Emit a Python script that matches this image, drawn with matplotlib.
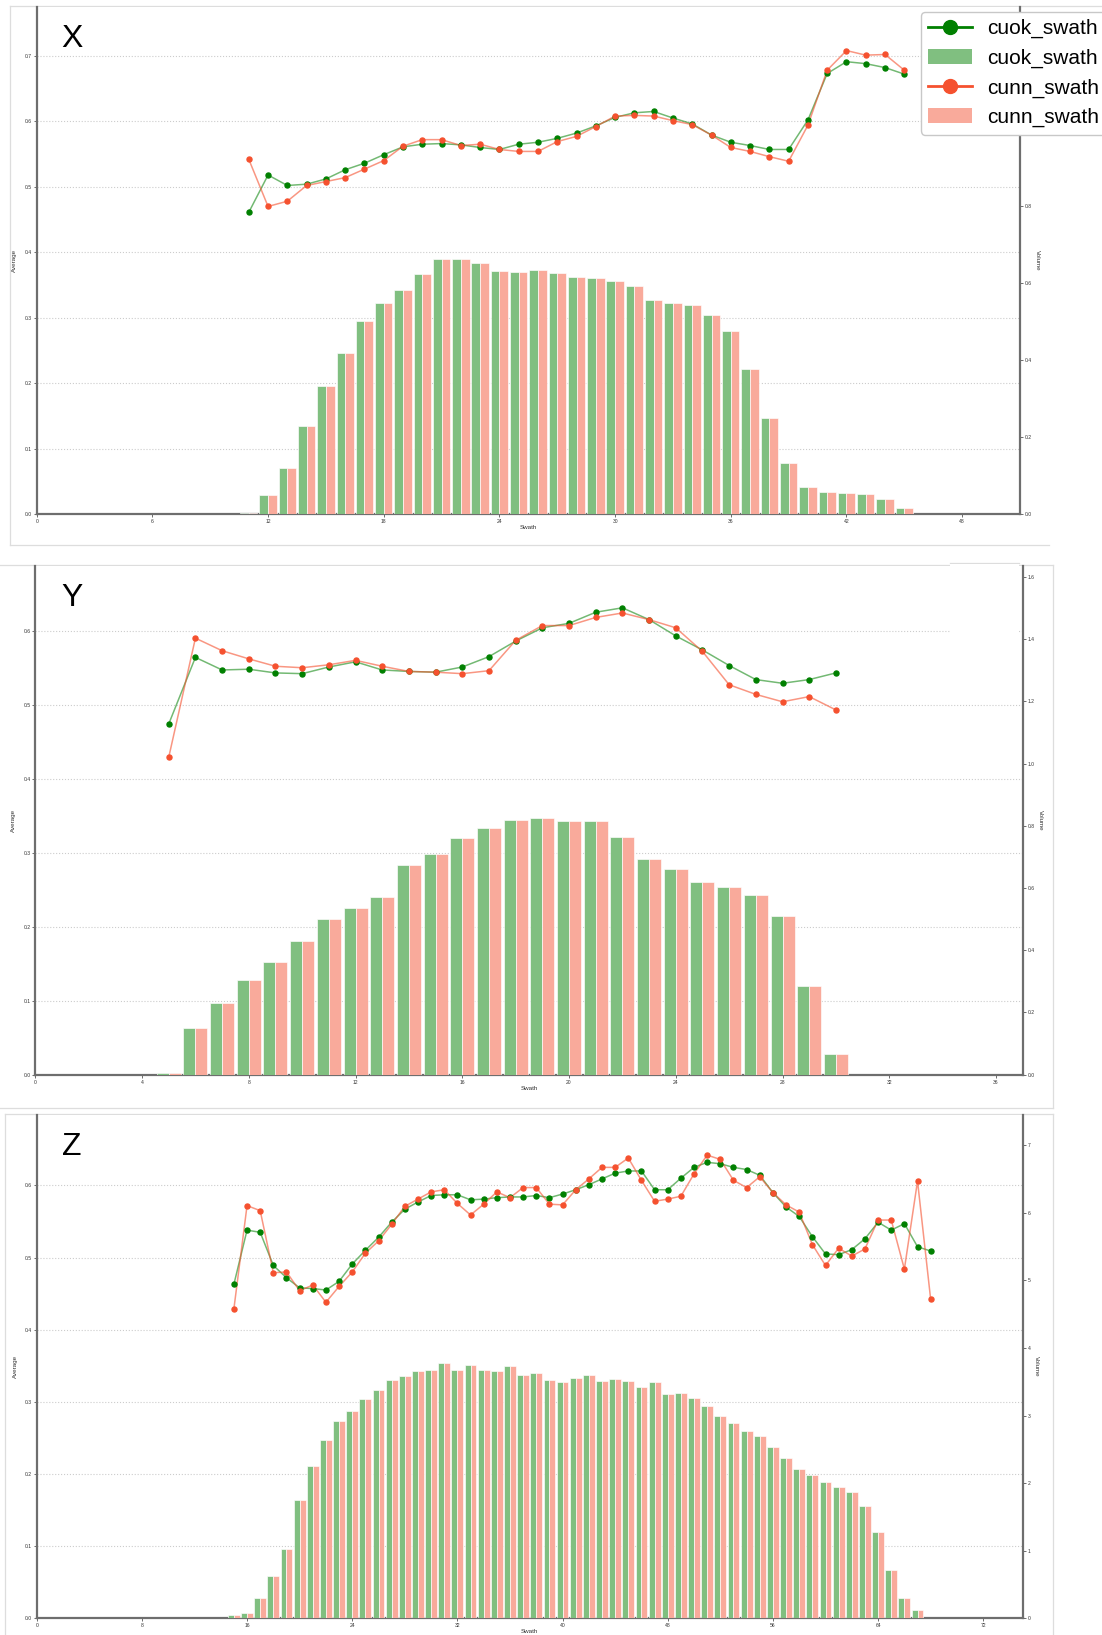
import numpy as np
import matplotlib
matplotlib.use("Agg")
import matplotlib.pyplot as plt
from matplotlib.lines import Line2D
from matplotlib.patches import Patch, Rectangle
from matplotlib.ticker import FormatStrFormatter

plt.rcParams["font.family"] = ["Liberation Sans", "DejaVu Sans"]

FIG_W, FIG_H = 1102, 1635

OK_LINE = "#008000"
NN_LINE = "#f5512f"
OK_BAR = "#80bf80"
NN_BAR = "#f9aa9b"
BAR_W = 0.45

# ---------------------------------------------------------------------------
# Panel X
# ---------------------------------------------------------------------------
x_swath = list(range(11, 46))
x_cuok_avg = [0.461, 0.518, 0.502, 0.504, 0.512, 0.526, 0.536, 0.549, 0.561, 0.565,
              0.566, 0.564, 0.560, 0.557, 0.565, 0.568, 0.574, 0.582, 0.593, 0.606,
              0.613, 0.615, 0.605, 0.596, 0.579, 0.568, 0.563, 0.557, 0.557, 0.602,
              0.673, 0.691, 0.688, 0.682, 0.672]
x_cunn_avg = [0.542, 0.470, 0.478, 0.502, 0.508, 0.514, 0.527, 0.540, 0.562, 0.572,
              0.572, 0.563, 0.565, 0.557, 0.554, 0.554, 0.569, 0.577, 0.592, 0.608,
              0.609, 0.608, 0.601, 0.595, 0.579, 0.560, 0.554, 0.546, 0.539, 0.594,
              0.678, 0.708, 0.701, 0.702, 0.678]
x_cuok_vol = [0.003, 0.050, 0.121, 0.229, 0.334, 0.419, 0.501, 0.549, 0.584, 0.624,
              0.662, 0.662, 0.652, 0.633, 0.630, 0.634, 0.627, 0.617, 0.615, 0.607,
              0.594, 0.556, 0.548, 0.545, 0.518, 0.475, 0.377, 0.249, 0.133, 0.071,
              0.058, 0.055, 0.053, 0.039, 0.016]
x_cunn_vol = list(x_cuok_vol)  # both volume bars are the same height

# ---------------------------------------------------------------------------
# Panel Y
# ---------------------------------------------------------------------------
y_swath = list(range(5, 31))
y_cuok_avg = [0.474, 0.564, 0.547, 0.548, 0.543, 0.542, 0.551, 0.558, 0.547, 0.545,
              0.544, 0.551, 0.565, 0.586, 0.604, 0.610, 0.625, 0.631, 0.615, 0.593,
              0.574, 0.553, 0.534, 0.529, 0.534, 0.543]
y_cunn_avg = [0.429, 0.590, 0.573, 0.562, 0.552, 0.550, 0.554, 0.560, 0.552, 0.545,
              0.544, 0.542, 0.546, 0.587, 0.607, 0.607, 0.618, 0.624, 0.615, 0.604,
              0.572, 0.527, 0.514, 0.504, 0.511, 0.493]
y_cuok_vol = [0.004, 0.151, 0.229, 0.304, 0.362, 0.429, 0.499, 0.535, 0.570, 0.674,
              0.710, 0.760, 0.794, 0.820, 0.824, 0.817, 0.814, 0.763, 0.693, 0.660,
              0.619, 0.602, 0.579, 0.509, 0.286, 0.065]
y_cunn_vol = list(y_cuok_vol)

# ---------------------------------------------------------------------------
# Panel Z
# ---------------------------------------------------------------------------
z_swath = list(range(15, 69))
z_cuok_avg = [0.463, 0.538, 0.535, 0.489, 0.472, 0.458, 0.457, 0.455, 0.467, 0.491,
              0.510, 0.528, 0.549, 0.567, 0.577, 0.586, 0.587, 0.587, 0.580, 0.581,
              0.583, 0.584, 0.584, 0.586, 0.583, 0.588, 0.594, 0.601, 0.609, 0.617,
              0.620, 0.620, 0.594, 0.594, 0.610, 0.625, 0.632, 0.630, 0.625, 0.622,
              0.614, 0.590, 0.570, 0.557, 0.529, 0.505, 0.504, 0.511, 0.526, 0.549,
              0.538, 0.547, 0.515, 0.509]
z_cunn_avg = [0.429, 0.572, 0.565, 0.479, 0.480, 0.454, 0.462, 0.438, 0.460, 0.480,
              0.506, 0.523, 0.546, 0.571, 0.581, 0.591, 0.594, 0.575, 0.559, 0.574,
              0.591, 0.583, 0.597, 0.597, 0.574, 0.573, 0.594, 0.609, 0.625, 0.625,
              0.638, 0.607, 0.578, 0.581, 0.585, 0.616, 0.642, 0.636, 0.607, 0.597,
              0.612, 0.590, 0.573, 0.563, 0.518, 0.489, 0.513, 0.502, 0.512, 0.552,
              0.552, 0.484, 0.606, 0.442]
z_cuok_vol = [0.042, 0.077, 0.303, 0.633, 1.028, 1.753, 2.246, 2.645, 2.926, 3.060,
              3.247, 3.376, 3.530, 3.580, 3.660, 3.680, 3.770, 3.670, 3.750, 3.670,
              3.660, 3.730, 3.600, 3.630, 3.518, 3.490, 3.550, 3.600, 3.513, 3.540,
              3.510, 3.420, 3.500, 3.320, 3.330, 3.257, 3.148, 2.990, 2.892, 2.778,
              2.695, 2.535, 2.367, 2.209, 2.124, 2.020, 1.936, 1.867, 1.664, 1.272,
              0.717, 0.306, 0.128, 0.010]
z_cunn_vol = list(z_cuok_vol)


def px_axes(fig, left, top, right, bottom):
    """Axes placed by pixel edges (origin top-left)."""
    return fig.add_axes([left / FIG_W, 1 - bottom / FIG_H,
                         (right - left) / FIG_W, (bottom - top) / FIG_H])


def px_line(fig, x0, y0, x1, y1, color="#dddddd"):
    fig.add_artist(Line2D([x0 / FIG_W, x1 / FIG_W], [1 - y0 / FIG_H, 1 - y1 / FIG_H],
                          transform=fig.transFigure, color=color, lw=0.9, zorder=0))


def draw_panel(fig, box, letter, swath, ok_avg, nn_avg, ok_vol, nn_vol,
               xmax, xstep, avg_top, avg_ticks, vol_top, vol_ticks, vol_fmt,
               ylab_x, vlab_x):
    left, top, right, bottom = box
    ax = px_axes(fig, left, top, right, bottom)
    ax2 = ax.twinx()

    sw = np.array(swath)
    ax2.bar(sw, ok_vol, width=-BAR_W, align="edge", color=OK_BAR,
            edgecolor="white", linewidth=0.45)
    ax2.bar(sw, nn_vol, width=BAR_W, align="edge", color=NN_BAR,
            edgecolor="white", linewidth=0.45)

    ax.plot(sw, ok_avg, color=OK_LINE, alpha=0.55, lw=1.1, zorder=3)
    ax.plot(sw, ok_avg, ls="none", marker="o", ms=3.6, color=OK_LINE, zorder=4)
    ax.plot(sw, nn_avg, color=NN_LINE, alpha=0.6, lw=1.1, zorder=3)
    ax.plot(sw, nn_avg, ls="none", marker="o", ms=3.6, color=NN_LINE, zorder=4)

    ax.set_xlim(0, xmax)
    ax.set_ylim(0, avg_top)
    ax2.set_ylim(0, vol_top)
    ax.set_xticks(np.arange(0, xmax, xstep))
    ax.set_yticks(avg_ticks)
    ax2.set_yticks(vol_ticks)
    ax.yaxis.set_major_formatter(FormatStrFormatter("%.1f"))
    ax2.yaxis.set_major_formatter(FormatStrFormatter(vol_fmt))

    ax.yaxis.grid(True, ls=":", color="#cccccc", lw=0.8)
    ax.set_axisbelow(True)

    for a in (ax, ax2):
        a.tick_params(labelsize=3.6, length=2, width=0.5, colors="#333333", pad=1.5)
        a.spines["top"].set_visible(False)
    for side in ("left", "bottom"):
        ax.spines[side].set_color("#6e6e6e")
        ax.spines[side].set_linewidth(1.6)
    ax.spines["right"].set_visible(False)
    ax2.spines["left"].set_visible(False)
    ax2.spines["bottom"].set_visible(False)
    ax2.spines["right"].set_color("#6e6e6e")
    ax2.spines["right"].set_linewidth(1.6)

    ax.set_ylabel("Average", fontsize=4.5, color="#333333")
    ax.yaxis.set_label_coords(ylab_x, 0.5)
    ax.set_xlabel("Swath", fontsize=4.5, color="#333333")
    ax.xaxis.set_label_coords(0.5, -0.022)
    ax2.set_ylabel("Volume", fontsize=4.5, color="#333333", rotation=270)
    ax2.yaxis.set_label_coords(vlab_x, 0.5)

    fig.text(72 / FIG_W, 1 - (top + 32) / FIG_H, letter, fontsize=23,
             ha="center", va="center", color="black")
    return ax, ax2


def main():
    fig = plt.figure(figsize=(FIG_W / 100, FIG_H / 100), dpi=100)
    fig.patch.set_facecolor("white")

    # screenshot frames
    px_line(fig, 10, 6, 1102, 6)
    px_line(fig, 10, 6, 10, 545)
    px_line(fig, 10, 545, 1049, 545)
    px_line(fig, 0, 565, 1053, 565)
    px_line(fig, 1053, 565, 1053, 1108)
    px_line(fig, 0, 1108, 1053, 1108)
    px_line(fig, 5, 1114, 1053, 1114)
    px_line(fig, 5, 1114, 5, 1635)
    px_line(fig, 1053, 1114, 1053, 1635)

    # upper right ticks of X sit under the legend, so only the visible ones
    draw_panel(fig, (36.7, 7, 1020, 514.3), "X", x_swath, x_cuok_avg, x_cunn_avg,
               x_cuok_vol, x_cunn_vol, 51, 6, 0.7745, np.arange(0, 0.75, 0.1),
               1.318, np.arange(0, 0.9, 0.2), "%.1f", -0.02, 1.02)
    draw_panel(fig, (35.3, 566, 1022.7, 1074.7), "Y", y_swath, y_cuok_avg, y_cunn_avg,
               y_cuok_vol, y_cunn_vol, 37, 4, 0.6875, np.arange(0, 0.65, 0.1),
               1.635, np.arange(0, 1.65, 0.2), "%.1f", -0.02, 1.021)
    draw_panel(fig, (36.7, 1114.7, 1022.7, 1618.3), "Z", z_swath, z_cuok_avg, z_cunn_avg,
               z_cuok_vol, z_cunn_vol, 75, 8, 0.698, np.arange(0, 0.65, 0.1),
               7.45, np.arange(0, 8, 1), "%d", -0.019, 1.016)

    # blank area left where the legend of panel Y was cut out
    fig.add_artist(Rectangle((950 / FIG_W, 1 - 690 / FIG_H), 69 / FIG_W, 126 / FIG_H,
                             transform=fig.transFigure, facecolor="white",
                             edgecolor="none", zorder=5))
    px_line(fig, 950, 563, 1019, 563)

    handles = [
        Line2D([], [], color=OK_LINE, marker="o", ms=10, lw=2),
        Patch(facecolor=OK_BAR, edgecolor="none"),
        Line2D([], [], color=NN_LINE, marker="o", ms=10, lw=2),
        Patch(facecolor=NN_BAR, edgecolor="none"),
    ]
    labels = ["cuok_swath", "cuok_swath", "cunn_swath", "cunn_swath"]
    leg = fig.legend(handles, labels, loc="upper left",
                     bbox_to_anchor=(920.7 / FIG_W, 1 - 11.7 / FIG_H),
                     fontsize=15, handlelength=2.1, handletextpad=0.75,
                     labelspacing=0.5, borderpad=0.35, borderaxespad=0,
                     frameon=True, fancybox=True, framealpha=1)
    leg.get_frame().set_edgecolor("#c8c8c8")
    leg.set_zorder(10)

    fig.savefig("out.png", dpi=100)
    plt.close(fig)


if __name__ == "__main__":
    main()
